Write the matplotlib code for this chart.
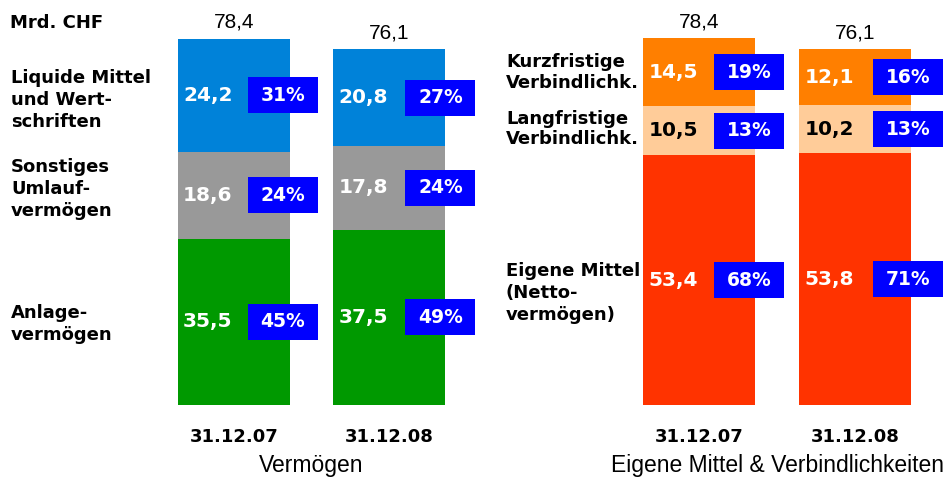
import matplotlib.pyplot as plt
import matplotlib as mpl

mpl.rcParams.update({"font.family": ["Liberation Sans", "DejaVu Sans"]})
BOLD = ["DejaVu Sans"]

# ---- data (Mrd. CHF) ----
dates = ["31.12.07", "31.12.08"]
groups = ["Vermögen", "Eigene Mittel & Verbindlichkeiten"]
totals_assets = [78.4, 76.1]
totals_liab = [78.4, 76.1]

# bottom -> top
asset_names = ["Anlage-\nvermögen", "Sonstiges\nUmlauf-\nvermögen", "Liquide Mittel\nund Wert-\nschriften"]
asset_vals = [[35.5, 18.6, 24.2], [37.5, 17.8, 20.8]]
asset_pct = [["45%", "24%", "31%"], ["49%", "24%", "27%"]]
asset_labels = [["35,5", "18,6", "24,2"], ["37,5", "17,8", "20,8"]]

liab_names = ["Eigene Mittel\n(Netto-\nvermögen)", "Langfristige\nVerbindlichk.", "Kurzfristige\nVerbindlichk."]
liab_vals = [[53.4, 10.5, 14.5], [53.8, 10.2, 12.1]]
liab_pct = [["68%", "13%", "19%"], ["71%", "13%", "16%"]]
liab_labels = [["53,4", "10,5", "14,5"], ["53,8", "10,2", "12,1"]]

asset_colors = ["#009900", "#999999", "#0082D9"]
liab_colors = ["#FF3300", "#FFCC99", "#FF7F00"]
liab_text = ["white", "black", "white"]
box_blue = "#0000FF"

# ---- layout (pixel-like x units, y in data units) ----
W, H = 949, 478
fig = plt.figure(figsize=(W / 100, H / 100), dpi=100)
ax = fig.add_axes([0, 0, 1, 1])
px_per_unit = 4.68
base_px = 73
ax.set_xlim(0, W)
ax.set_ylim(-base_px / px_per_unit, (H - base_px) / px_per_unit)
ax.axis("off")

bar_w = 112
centers = [[234, 389.5], [699.5, 855.5]]
box_w, box_h = 70, 36 / px_per_unit


def draw_group(xs, vals, labels, pcts, colors, txtcol, totals, box_off):
    for i, x in enumerate(xs):
        bottom = 0
        left = x - bar_w / 2
        for j, v in enumerate(vals[i]):
            ax.bar(x, v, width=bar_w, bottom=bottom, color=colors[j], linewidth=0)
            mid = bottom + v / 2
            ax.text(left + 5, mid, labels[i][j], color=txtcol[j], fontsize=14.5,
                    fontweight="bold", family=BOLD, ha="left", va="center")
            bx = left + box_off[i]
            ax.add_patch(plt.Rectangle((bx, mid - box_h / 2), box_w, box_h,
                                       color=box_blue, linewidth=0, zorder=3))
            ax.text(bx + box_w / 2, mid, pcts[i][j], color="white", fontsize=13.5,
                    fontweight="bold", family=BOLD, ha="center", va="center", zorder=4)
            bottom += v
        ax.text(x, totals[i] + 2.2, f"{totals[i]:.1f}".replace(".", ","),
                fontsize=15, ha="center", va="baseline")
        ax.text(x, -6.9, dates[i], fontsize=13, fontweight="bold", family=BOLD,
                ha="center", va="center")


draw_group(centers[0], asset_vals, asset_labels, asset_pct, asset_colors,
           ["white"] * 3, totals_assets, [70, 72])
draw_group(centers[1], liab_vals, liab_labels, liab_pct, liab_colors,
           liab_text, totals_liab, [71, 74])

# group titles
ax.text(311, -12.9, groups[0], fontsize=16.5, ha="center", va="center")
ax.text(778, -12.9, groups[1], fontsize=16.5, ha="center", va="center")

# category labels on the left of each group
ax.text(10, 81.6, "Mrd. CHF", fontsize=13, fontweight="bold", family=BOLD,
        ha="left", va="center")
asset_label_y = [35.5 / 2 - 0.5, 35.5 + 18.6 / 2 + 1.3, 54.1 + 24.2 / 2 - 1.0]
for name, y in zip(asset_names, asset_label_y):
    ax.text(11, y, name, fontsize=13, fontweight="bold", family=BOLD, ha="left",
            va="center", linespacing=1.27)
liab_label_y = [53.4 / 2 - 2.8, 53.4 + 10.5 / 2 + 0.3, 63.9 + 14.5 / 2 - 0.2]
liab_spacing = [1.27, 1.12, 1.22]
for name, y, ls in zip(liab_names, liab_label_y, liab_spacing):
    ax.text(506, y, name, fontsize=13, fontweight="bold", family=BOLD, ha="left",
            va="center", linespacing=ls)

fig.savefig("out.png", dpi=100)
